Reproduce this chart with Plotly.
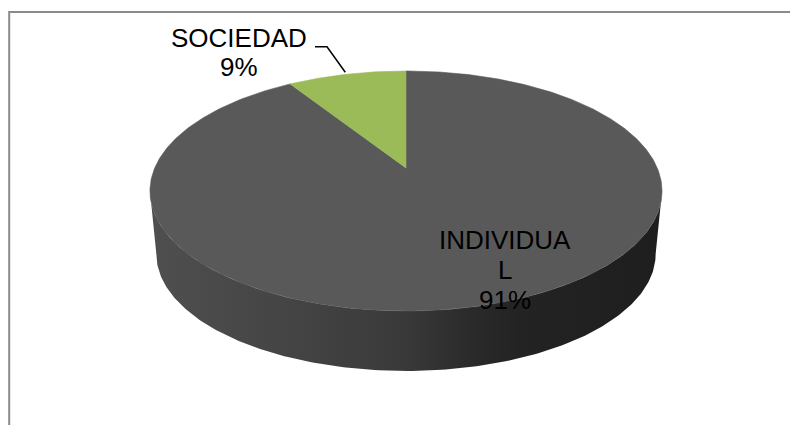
import numpy as np
import plotly.graph_objects as go

# ---- data ----
labels = ["INDIVIDUAL", "SOCIEDAD"]
values = [91, 9]
colors = ["#595959", "#9BBB59"]

# ---- geometry / style (screen-pixel coordinates) ----
W, H = 798, 425
OFF = 8                    # page body margin
cx, cy = 406.0, 168.0      # apex of pie (centre of top face)
A, B, k = 251.3, 115.6, 0.1917   # perspective projection parameters
drop = 63.6                # thickness of the pie (screen)
bscale = 0.975             # bottom rim is slightly smaller (perspective)
FONT = "Arial, Liberation Sans, sans-serif"


def rim(theta_deg, oy=0.0, s=1.0):
    t = np.radians(theta_deg)
    u, v = np.sin(t), np.cos(t)
    d = 1 + k * v
    return cx + s * A * u / d, oy + cy - s * B * v / d


fig = go.Figure()

# side (front wall)
ta = np.degrees(np.arccos(-k))
tb = 360 - ta
th = np.linspace(ta, tb, 200)
xt, yt = rim(th)
xb, yb = rim(th[::-1], oy=drop, s=bscale)
fig.add_trace(go.Scatter(
    x=np.concatenate([xt, xb]), y=np.concatenate([yt, yb]),
    mode="lines", fill="toself", line=dict(width=0),
    fillgradient=dict(type="horizontal", colorscale=[
        [0, "#4f4f4f"], [0.3, "#434343"], [0.5, "#393939"],
        [0.62, "#2b2b2b"], [0.72, "#232323"], [1, "#1e1e1e"]]),
    hoverinfo="skip", showlegend=False))

# top face slices
total = sum(values)
start = 0.0
mids = []
for lab, val, col in zip(labels, values, colors):
    span = 360.0 * val / total
    ths = np.linspace(start, start + span, max(int(span * 2), 10))
    xs, ys = rim(ths)
    fig.add_trace(go.Scatter(
        x=np.concatenate([[cx], xs, [cx]]), y=np.concatenate([[cy], ys, [cy]]),
        mode="lines", fill="toself", fillcolor=col,
        line=dict(width=0.6, color=col),
        name=lab, hoverinfo="skip", showlegend=False))
    mids.append(start + span / 2)
    start += span

# ---- labels ----
pct = [f"{round(100 * v / total)}%" for v in values]

# INDIVIDUAL (inside, wrapped)
ind_lines = [labels[0][:9], labels[0][9:], pct[0]]
for i, t in enumerate(ind_lines):
    fig.add_annotation(x=505, y=240 + 30 * i, text=t, showarrow=False,
                       xanchor="center", yanchor="middle",
                       font=dict(family=FONT, size=26, color="#000000"))

# SOCIEDAD (outside with leader line)
soc_lines = [labels[1], pct[1]]
for i, t in enumerate(soc_lines):
    fig.add_annotation(x=239, y=37.5 + 29.5 * i, text=t, showarrow=False,
                       xanchor="center", yanchor="middle",
                       font=dict(family=FONT, size=26, color="#000000"))

ex, ey = rim(mids[1])
fig.add_trace(go.Scatter(x=[315, 327, ex - 1.5], y=[46.7, 46.7, ey - 2],
                         mode="lines", line=dict(color="#000000", width=1.5),
                         hoverinfo="skip", showlegend=False))

# chart border
fig.add_shape(type="rect", xref="x", yref="y", x0=9.2, y0=12, x1=830, y1=450,
              line=dict(color="#8a8a8a", width=2), fillcolor="rgba(0,0,0,0)")

fig.update_xaxes(range=[OFF, OFF + W], visible=False, fixedrange=True)
fig.update_yaxes(range=[OFF + H, OFF], visible=False, fixedrange=True)
fig.update_layout(width=W, height=H, margin=dict(l=0, r=0, t=0, b=0),
                  paper_bgcolor="#ffffff", plot_bgcolor="#ffffff")

fig.write_html("out.html")
